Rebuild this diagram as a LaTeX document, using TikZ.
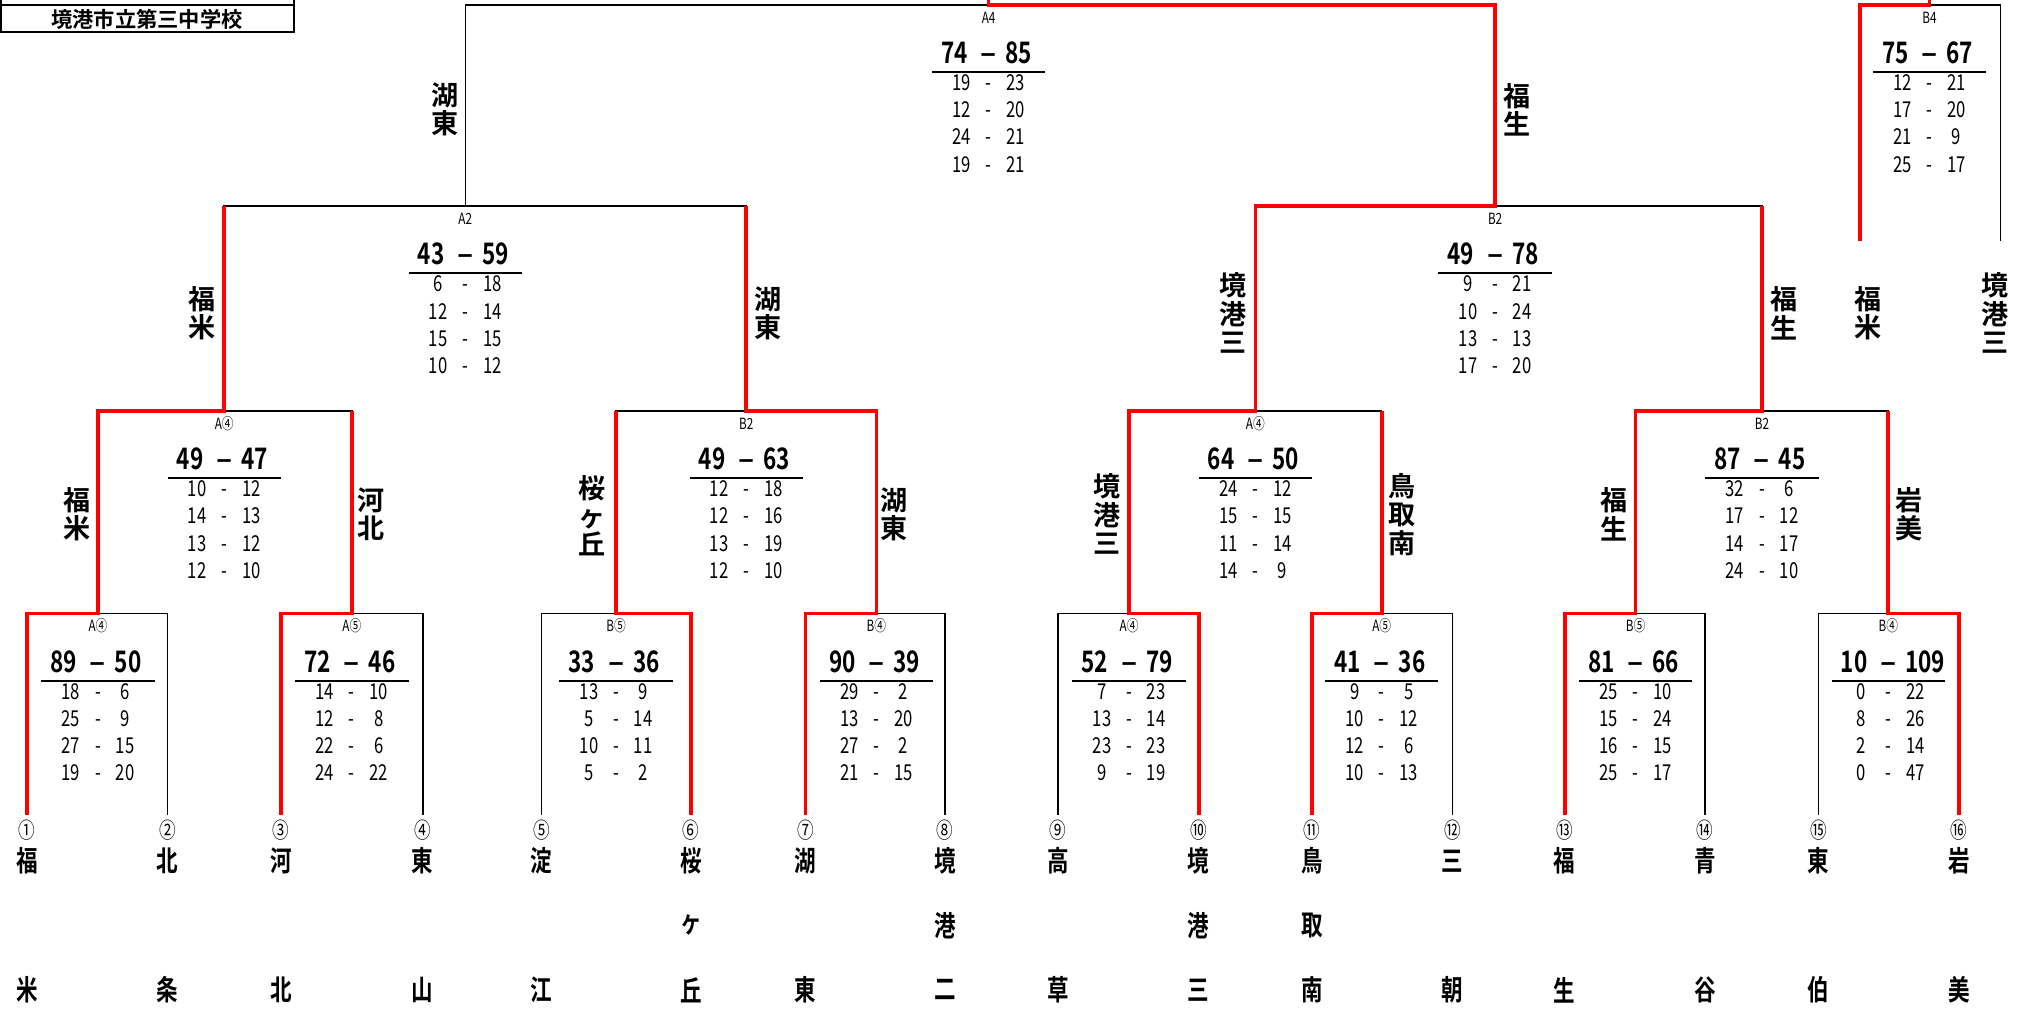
\documentclass[tikz,border=0pt]{standalone}
\usepackage{fontspec}
\setmainfont{Noto Sans CJK JP}[BoldFont={Noto Sans CJK JP Bold}]
\newfontfamily\estrecha{Noto Sans CJK JP}[FakeStretch=0.76,BoldFont={Noto Sans CJK JP Bold}]
\usepackage{tikz}

\begin{document}
\begin{tikzpicture}[x=1pt,y=-1pt,
  linea/.style={line width=1.2pt},
  ganador/.style={line width=2.8pt,draw=red},
  codigo/.style={font=\estrecha\fontsize{12}{12}\selectfont,inner sep=0pt,anchor=base},
  marcador/.style={font=\estrecha\bfseries\fontsize{23}{23}\selectfont,inner sep=0pt},
  guion/.style={font=\bfseries\fontsize{23}{23}\selectfont,inner sep=0pt,anchor=base},
  parcial/.style={font=\estrecha\fontsize{17}{17}\selectfont,inner sep=0pt,anchor=base},
  equipo/.style={font=\bfseries\fontsize{21}{22}\selectfont,align=center,inner sep=0pt},
  numero/.style={font=\estrecha\fontsize{17}{17}\selectfont,inner sep=0pt},
  letra/.style={font=\estrecha\bfseries\fontsize{22}{22}\selectfont,inner sep=0pt}]

\useasboundingbox (0,0) rectangle (1568,783);

% Cuadro del colegio
\draw[linea] (0.6,0) -- (0.6,25) -- (228,25) -- (228,0);
\draw[linea] (0.6,4) -- (228,4);
\node[font=\bfseries\fontsize{16.5}{16.5}\selectfont,inner sep=0pt] (colegio) at (114,15) {境港市立第三中学校};

% Primera ronda
\foreach \l/\r in {21/130, 218/328, 420/536, 625/733, 821/930, 1018/1127, 1214/1323, 1411/1520}
  \draw[linea] (\l,632) -- (\l,476) -- (\r,476) -- (\r,632);

% Segunda ronda
\foreach \l/\r in {76/273, 478/680, 876/1072, 1269/1465}
  \draw[linea] (\l,476) -- (\l,319) -- (\r,319) -- (\r,476);

% Semifinales
\draw[linea] (174,319) -- (174,160) -- (579,160) -- (579,319);
\draw[linea] (974,319) -- (974,160) -- (1367,160) -- (1367,319);

% Final y tercer puesto
\draw[linea] (361,160) -- (361,4) -- (1160,4) -- (1160,160);
\draw[linea] (1443,187) -- (1443,4) -- (1552,4) -- (1552,187);

% Caminos de los ganadores
\draw[ganador] (21,632) -- (21,476) -- (76,476) -- (76,319) -- (174,319) -- (174,160);
\draw[ganador] (218,632) -- (218,476) -- (273,476) -- (273,319);
\draw[ganador] (536,632) -- (536,476) -- (478,476) -- (478,319);
\draw[ganador] (625,632) -- (625,476) -- (680,476) -- (680,319) -- (579,319) -- (579,160);
\draw[ganador] (930,632) -- (930,476) -- (876,476) -- (876,319) -- (974,319) -- (974,160)
  -- (1160,160) -- (1160,4) -- (767,4) -- (767,0);
\draw[ganador] (1018,632) -- (1018,476) -- (1072,476) -- (1072,319);
\draw[ganador] (1214,632) -- (1214,476) -- (1269,476) -- (1269,319) -- (1367,319) -- (1367,160);
\draw[ganador] (1520,632) -- (1520,476) -- (1465,476) -- (1465,319);
\draw[ganador] (1443,187) -- (1443,4) -- (1497,4) -- (1497,0);

% Resultados
\foreach \cx/\ty/\cod/\sa/\sb/\sets [count=\i] in {
  76/476/A④/89/50/{18/6,25/9,27/15,19/20},
  273/476/A⑤/72/46/{14/10,12/8,22/6,24/22},
  478/476/B⑤/33/36/{13/9,5/14,10/11,5/2},
  680/476/B④/90/39/{29/2,13/20,27/2,21/15},
  876/476/A④/52/79/{7/23,13/14,23/23,9/19},
  1072/476/A⑤/41/36/{9/5,10/12,12/6,10/13},
  1269/476/B⑤/81/66/{25/10,15/24,16/15,25/17},
  1465/476/B④/10/109/{0/22,8/26,2/14,0/47},
  174/319/A④/49/47/{10/12,14/13,13/12,12/10},
  579/319/B2/49/63/{12/18,12/16,13/19,12/10},
  974/319/A④/64/50/{24/12,15/15,11/14,14/9},
  1367/319/B2/87/45/{32/6,17/12,14/17,24/10},
  361/160/A2/43/59/{6/18,12/14,15/15,10/12},
  1160/160/B2/49/78/{9/21,10/24,13/13,17/20},
  767/4/A4/74/85/{19/23,12/20,24/21,19/21},
  1497/4/B4/75/67/{12/21,17/20,21/9,25/17}}
{
  \node[codigo] (cod\i) at (\cx,\ty+14) {\cod};
  \node[marcador,anchor=base east] (izq\i) at (\cx-16,\ty+45.5) {\sa};
  \node[guion] (gui\i) at (\cx,\ty+45.5) {–};
  \node[marcador,anchor=base west] (der\i) at (\cx+13,\ty+45.5) {\sb};
  \draw[line width=1.6pt] (\cx-44,\ty+52) -- (\cx+44,\ty+52);
  \foreach \p/\q [count=\k] in \sets {
    \node[parcial] (pi\i-\k) at (\cx-21,\ty+45.5+21*\k) {\p};
    \node[parcial] (pg\i-\k) at (\cx,\ty+45.5+21*\k) {-};
    \node[parcial] (pd\i-\k) at (\cx+21,\ty+45.5+21*\k) {\q};
  }
}

% Equipos en las lineas
\foreach \x/\y/\nom [count=\i] in {345/85/{湖\\東}, 1177/85/{福\\生},
  157/243/{福\\米}, 596/243/{湖\\東}, 957/243/{境\\港\\三}, 1384/243/{福\\生},
  60/399/{福\\米}, 288/399/{河\\北}, 459/400/{桜\\ヶ\\丘}, 694/399/{湖\\東},
  859/399/{境\\港\\三}, 1088/399/{鳥\\取\\南}, 1252/399/{福\\生}, 1481/399/{岩\\美},
  1449/243/{福\\米}, 1548/243/{境\\港\\三}}
  \node[equipo] (eq\i) at (\x,\y) {\nom};

% Equipos participantes
\foreach \x/\num/\pa/\pb/\pc [count=\i] in {21/①/福/{}/米, 130/②/北/{}/条,
  218/③/河/{}/北, 328/④/東/{}/山, 420/⑤/淀/{}/江, 536/⑥/桜/ヶ/丘,
  625/⑦/湖/{}/東, 733/⑧/境/港/二, 821/⑨/高/{}/草, 930/⑩/境/港/三,
  1018/⑪/鳥/取/南, 1127/⑫/三/{}/朝, 1214/⑬/福/{}/生, 1323/⑭/青/{}/谷,
  1411/⑮/東/{}/伯, 1520/⑯/岩/{}/美}
{
  \node[numero] (num\i) at (\x,644) {\num};
  \node[letra] (la\i) at (\x,668) {\pa};
  \node[letra] (lb\i) at (\x,718) {\pb};
  \node[letra] (lc\i) at (\x,768) {\pc};
}

\end{tikzpicture}
\end{document}
